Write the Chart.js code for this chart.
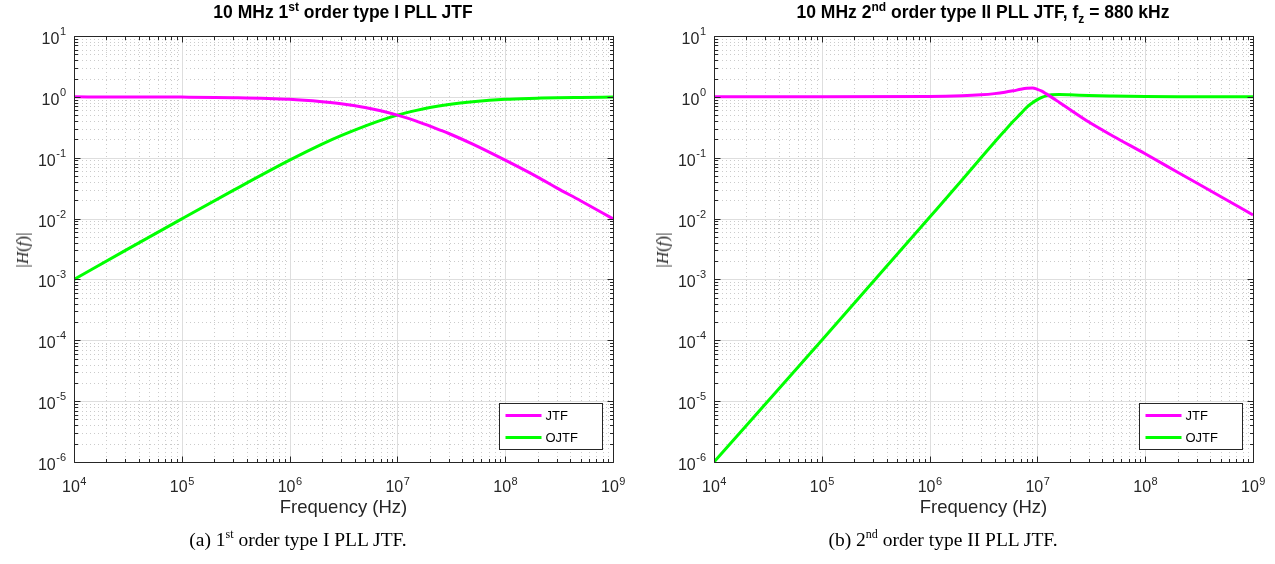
<!DOCTYPE html>
<html>
<head>
<meta charset="utf-8">
<script src="https://cdn.jsdelivr.net/npm/chart.js@4.4.1/dist/chart.umd.min.js"></script>
<style>
  body { margin: 0; background: #fff; width: 1275px; height: 564px; overflow: hidden; position: relative;
         font-family: "Liberation Sans", Arial, Helvetica, sans-serif; }
  canvas { position: absolute; top: 0; }
  #c1 { left: 0; }
  #c2 { left: 640px; }
  .title { position: absolute; top: 2px; font-weight: bold; font-size: 17.5px; color: #000; white-space: nowrap;
           transform: translateX(-50%); line-height: 20px; }
  .title sup { font-size: 12px; vertical-align: 7px; line-height: 0; }
  .title sub { font-size: 12px; vertical-align: -5px; line-height: 0; }
  .ylab { position: absolute; top: 250px; font-family: "Liberation Serif", "Times New Roman", serif; font-size: 17px;
          color: #262626; white-space: nowrap; transform: translate(-50%, -50%) rotate(-90deg); }
  .cap { position: absolute; top: 528px; font-family: "Liberation Serif", "Times New Roman", serif; font-size: 19.5px;
         color: #000; white-space: nowrap; transform: translateX(-50%); line-height: 24px; }
  .cap sup { font-size: 12px; vertical-align: 8px; line-height: 0; }
</style>
</head>
<body>
<canvas id="c1" width="640" height="564"></canvas>
<canvas id="c2" width="640" height="564"></canvas>

<div class="title" style="left:343px">10 MHz 1<sup>st</sup> order type I PLL JTF</div>
<div class="title" style="left:983px">10 MHz 2<sup>nd</sup> order type II PLL JTF, f<sub>z</sub> = 880 kHz</div>
<div class="ylab" style="left:23px">|<i>H</i>(<i>f</i>)|</div>
<div class="ylab" style="left:663px">|<i>H</i>(<i>f</i>)|</div>
<div class="cap" style="left:298px">(a) 1<sup>st</sup> order type I PLL JTF.</div>
<div class="cap" style="left:943px">(b) 2<sup>nd</sup> order type II PLL JTF.</div>

<script>
'use strict';

// values
let freq1 = [1e4, 3e4, 1e5, 3e5, 1e6, 2e6, 3e6, 5e6, 7e6, 1e7, 1.5e7, 2e7, 3e7, 5e7, 1e8, 2e8, 3e8, 5e8, 1e9];
let jtf1  = [1.0, 0.997, 0.99, 0.97, 0.91, 0.83, 0.77, 0.67, 0.59, 0.5, 0.4, 0.33, 0.25, 0.167, 0.091, 0.048, 0.032, 0.0196, 0.0099];
let ojtf1 = [0.001, 0.003, 0.0099, 0.029, 0.091, 0.167, 0.23, 0.33, 0.41, 0.5, 0.6, 0.67, 0.75, 0.83, 0.91, 0.95, 0.97, 0.98, 0.99];

let freq2 = [1e4, 1e5, 1e6, 2e6, 3e6, 4e6, 5e6, 6e6, 7e6, 8e6, 9e6, 1e7, 1.1e7, 1.2e7, 1.35e7, 1.6e7, 2e7, 3e7, 5e7, 1e8, 2e8, 5e8, 1e9];
let jtf2  = [1.0, 1.0, 1.01, 1.04, 1.08, 1.13, 1.19, 1.26, 1.33, 1.38, 1.4, 1.33, 1.24, 1.13, 0.99, 0.81, 0.62, 0.385, 0.228, 0.116, 0.0578, 0.0231, 0.0115];
let ojtf2 = [1e-6, 1e-4, 0.0105, 0.043, 0.1, 0.18, 0.28, 0.4, 0.53, 0.68, 0.8, 0.9, 0.98, 1.04, 1.08, 1.09, 1.08, 1.05, 1.03, 1.012, 1.004, 1.001, 1.0];

let seriesNames = ['JTF', 'OJTF'];
let seriesColors = ['#ff00ff', '#00ff00'];

let xDecades = [1e4, 1e5, 1e6, 1e7, 1e8, 1e9];
let xTickExp = ['4', '5', '6', '7', '8', '9'];
let yDecades = [1e-6, 1e-5, 1e-4, 1e-3, 1e-2, 1e-1, 1e0, 1e1];
let yTickExp = ['-6', '-5', '-4', '-3', '-2', '-1', '0', '1'];
let xLabel = 'Frequency (Hz)';

let axisColor = '#262626';
let baseFont = '16px "Liberation Sans", Arial, sans-serif';
let expFont = '11px "Liberation Sans", Arial, sans-serif';

function minorsOf(decades) {
    let out = [];
    for (let i = 0; i < decades.length - 1; i++) {
        for (let m = 2; m <= 9; m++) out.push(decades[i] * m);
    }
    return out;
}

// grid, box, inward ticks and power-of-ten labels, MATLAB style
let framePlugin = {
    id: 'frame',
    beforeDatasetsDraw(chart) {
        let ctx = chart.ctx;
        let a = chart.chartArea;
        let x = chart.scales.x;
        let y = chart.scales.y;
        ctx.save();
        ctx.lineWidth = 1;
        ctx.strokeStyle = '#cbcbcb';
        ctx.setLineDash([1, 3]);
        ctx.beginPath();
        minorsOf(xDecades).forEach(v => {
            let px = Math.round(x.getPixelForValue(v)) + 0.5;
            ctx.moveTo(px, a.top); ctx.lineTo(px, a.bottom);
        });
        minorsOf(yDecades).forEach(v => {
            let py = Math.round(y.getPixelForValue(v)) + 0.5;
            ctx.moveTo(a.left, py); ctx.lineTo(a.right, py);
        });
        ctx.stroke();

        ctx.setLineDash([]);
        ctx.strokeStyle = '#dedede';
        ctx.beginPath();
        xDecades.forEach(v => {
            let px = Math.round(x.getPixelForValue(v)) + 0.5;
            ctx.moveTo(px, a.top); ctx.lineTo(px, a.bottom);
        });
        yDecades.forEach(v => {
            let py = Math.round(y.getPixelForValue(v)) + 0.5;
            ctx.moveTo(a.left, py); ctx.lineTo(a.right, py);
        });
        ctx.stroke();
        ctx.restore();
    },
    afterDatasetsDraw(chart) {
        let ctx = chart.ctx;
        let a = chart.chartArea;
        let x = chart.scales.x;
        let y = chart.scales.y;
        let L = Math.round(a.left) + 0.5, R = Math.round(a.right) + 0.5;
        let T = Math.round(a.top) + 0.5, B = Math.round(a.bottom) + 0.5;
        ctx.save();
        ctx.strokeStyle = axisColor;
        ctx.lineWidth = 1;
        ctx.beginPath();
        ctx.rect(L, T, R - L, B - T);
        let tickX = (v, len) => {
            let px = Math.round(x.getPixelForValue(v)) + 0.5;
            ctx.moveTo(px, B); ctx.lineTo(px, B - len);
            ctx.moveTo(px, T); ctx.lineTo(px, T + len);
        };
        let tickY = (v, len) => {
            let py = Math.round(y.getPixelForValue(v)) + 0.5;
            ctx.moveTo(L, py); ctx.lineTo(L + len, py);
            ctx.moveTo(R, py); ctx.lineTo(R - len, py);
        };
        xDecades.forEach(v => tickX(v, 6));
        minorsOf(xDecades).forEach(v => tickX(v, 3.5));
        yDecades.forEach(v => tickY(v, 6));
        minorsOf(yDecades).forEach(v => tickY(v, 3.5));
        ctx.stroke();

        ctx.fillStyle = axisColor;
        ctx.textBaseline = 'alphabetic';
        // x tick labels
        xDecades.forEach((v, i) => {
            let px = x.getPixelForValue(v);
            ctx.font = baseFont;
            let wb = ctx.measureText('10').width;
            ctx.font = expFont;
            let we = ctx.measureText(xTickExp[i]).width;
            let start = px - (wb + we) / 2;
            ctx.font = baseFont;
            ctx.textAlign = 'left';
            ctx.fillText('10', start, a.bottom + 30);
            ctx.font = expFont;
            ctx.fillText(xTickExp[i], start + wb + 0.5, a.bottom + 23);
        });
        // y tick labels
        yDecades.forEach((v, i) => {
            let py = y.getPixelForValue(v);
            ctx.font = expFont;
            let we = ctx.measureText(yTickExp[i]).width;
            let end = a.left - 8;
            ctx.textAlign = 'left';
            ctx.fillText(yTickExp[i], end - we, py - 1);
            ctx.font = baseFont;
            ctx.textAlign = 'right';
            ctx.fillText('10', end - we - 0.5, py + 8);
        });
        // x axis title
        ctx.font = '18.5px "Liberation Sans", Arial, sans-serif';
        ctx.textAlign = 'center';
        ctx.textBaseline = 'middle';
        ctx.fillText(xLabel, (a.left + a.right) / 2, a.bottom + 46);
        ctx.restore();
    }
};

// legend box in the lower right corner
let legendPlugin = {
    id: 'cornerLegend',
    afterDraw(chart) {
        let ctx = chart.ctx;
        let a = chart.chartArea;
        let w = 103, h = 46;
        let left = Math.round(a.right - 11 - w) + 0.5;
        let top = Math.round(a.bottom - 13 - h) + 0.5;
        ctx.save();
        ctx.fillStyle = '#fff';
        ctx.fillRect(left, top, w, h);
        ctx.strokeStyle = axisColor;
        ctx.lineWidth = 1;
        ctx.strokeRect(left, top, w, h);
        ctx.font = '13px "Liberation Sans", Arial, sans-serif';
        ctx.textBaseline = 'middle';
        ctx.textAlign = 'left';
        chart.data.datasets.forEach((ds, i) => {
            let yy = top + 12 + i * 22;
            ctx.strokeStyle = ds.borderColor;
            ctx.lineWidth = 3;
            ctx.beginPath();
            ctx.moveTo(left + 6, yy); ctx.lineTo(left + 42, yy);
            ctx.stroke();
            ctx.fillStyle = '#000';
            ctx.fillText(ds.label, left + 46, yy + 1);
        });
        ctx.restore();
    }
};

function makeChart(id, freq, jtf, ojtf) {
    let ctx = document.getElementById(id).getContext('2d');
    let sets = [jtf, ojtf].map((vals, i) => ({
        label: seriesNames[i],
        data: freq.map((f, k) => ({ x: f, y: vals[k] })),
        borderColor: seriesColors[i],
        backgroundColor: seriesColors[i],
        borderWidth: 3,
        pointRadius: 0,
        cubicInterpolationMode: 'monotone',
        fill: false
    }));
    return new Chart(ctx, {
        type: 'line',
        data: { datasets: sets },
        options: {
            responsive: false,
            animation: false,
            devicePixelRatio: 1,
            layout: { padding: { left: 0, top: 36, right: 27, bottom: 0 } },
            plugins: { legend: { display: false }, tooltip: { enabled: false }, title: { display: false } },
            scales: {
                x: {
                    type: 'logarithmic', min: 1e4, max: 1e9,
                    grid: { display: false }, border: { display: false },
                    ticks: { display: false },
                    afterFit: s => { s.height = 102; }
                },
                y: {
                    type: 'logarithmic', min: 1e-6, max: 10,
                    grid: { display: false }, border: { display: false },
                    ticks: { display: false },
                    afterFit: s => { s.width = 74; }
                }
            }
        },
        plugins: [framePlugin, legendPlugin]
    });
}

makeChart('c1', freq1, jtf1, ojtf1);
makeChart('c2', freq2, jtf2, ojtf2);
</script>
</body>
</html>
